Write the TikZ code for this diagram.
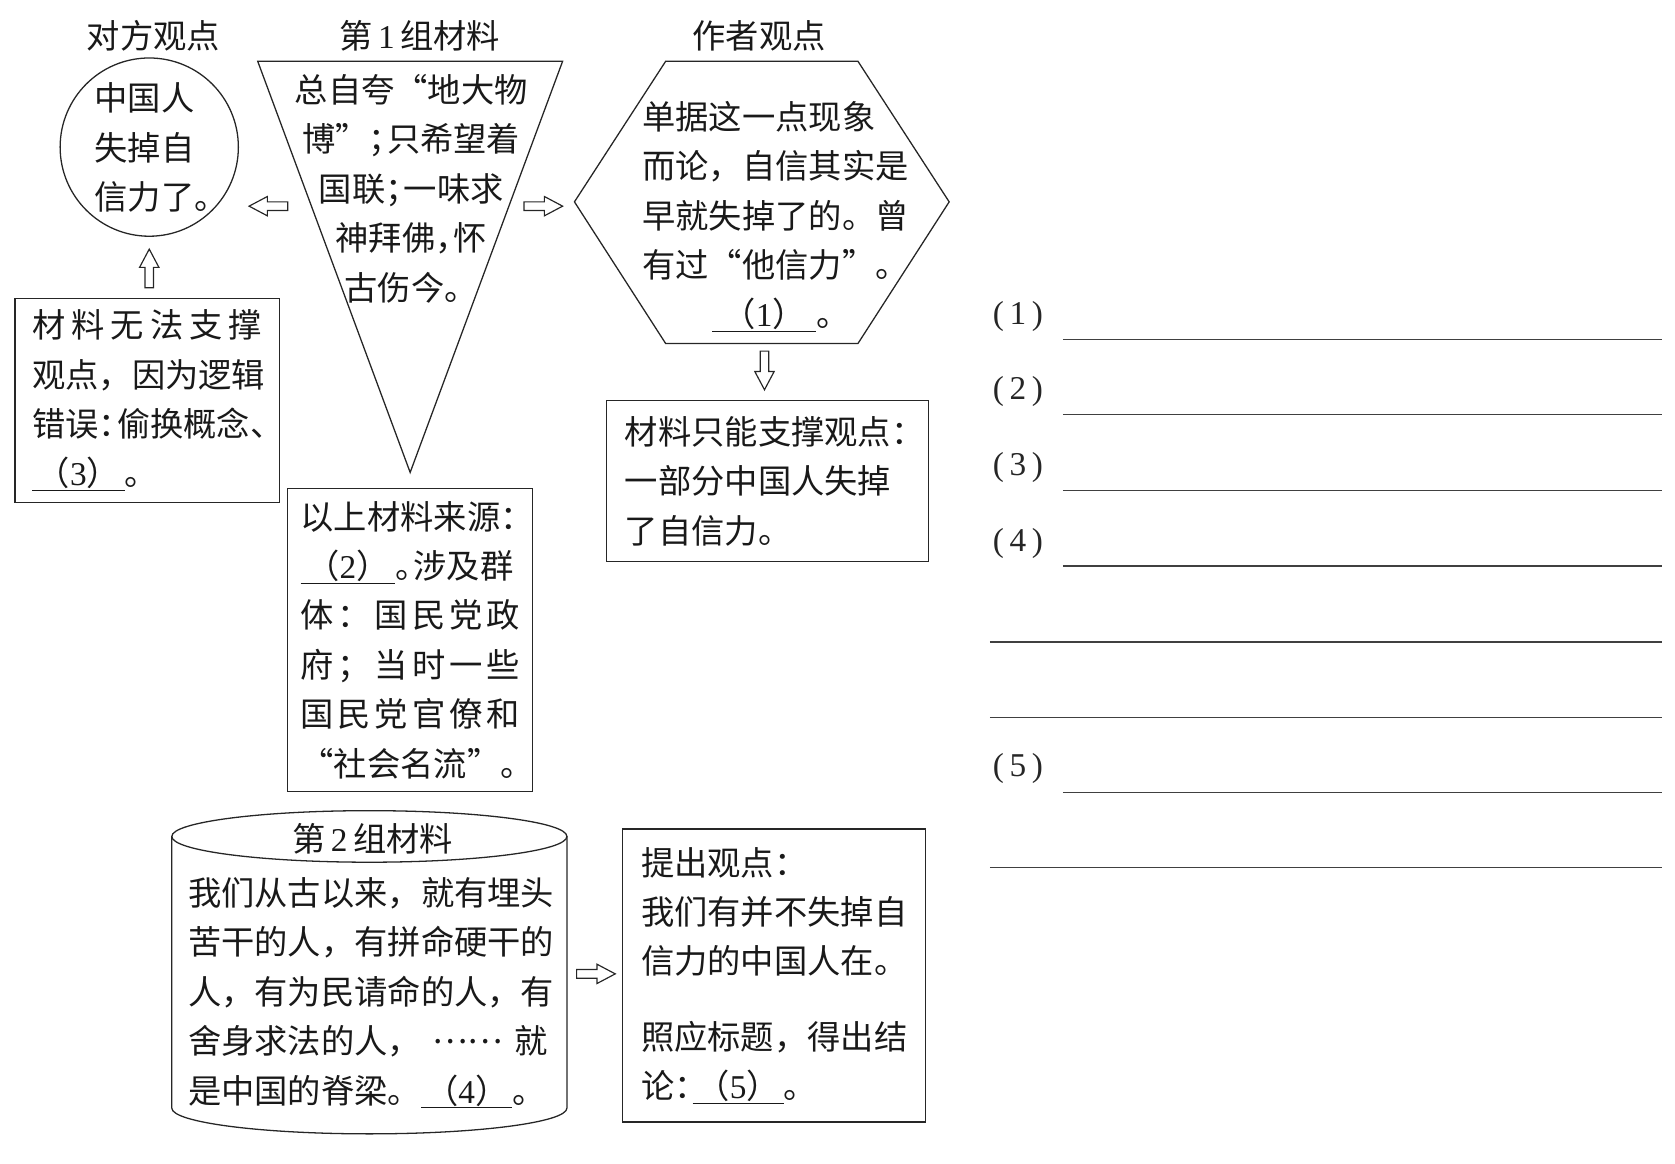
\documentclass[tikz,border=0pt]{standalone}
\usepackage{fontspec}
\setmainfont{Noto Sans CJK SC}
\newfontfamily\numfont{Liberation Serif}
\newcommand\hw[1]{\makebox[0.55em][l]{#1}}
\newcommand\blank[2]{\leavevmode\rlap{\rule[-5pt]{#1}{1.2pt}}\makebox[#1]{（{\numfont #2}）}}
\newcommand\spr[2]{\leavevmode\hbox to #1{#2}}
\tikzset{
  outl/.style={draw=black!85, line width=1.2pt},
  txt/.style={font=\fontsize{31pt}{46pt}\selectfont, inner sep=0pt, align=left, text=black!90},
  ttl/.style={font=\fontsize{31pt}{37pt}\selectfont, inner sep=0pt, text=black!90},
  boxst/.style={outl, font=\fontsize{31pt}{46pt}\selectfont, align=left, inner ysep=0pt, text=black!90},
  lbl/.style={font=\numfont\fontsize{31pt}{36pt}\selectfont, inner sep=0pt, text=black!85},
  ansline/.style={line width=1.3pt, draw=black!75},
  harrow/.pic={\draw[outl, line width=1.1pt] (-18,-4) -- (1,-4) -- (1,-9) -- (18,0) -- (1,9) -- (1,4) -- (-18,4) -- cycle;}
}
\begin{document}
\begin{tikzpicture}[x=1pt,y=-1pt]
\useasboundingbox (0,0) rectangle (1560,1084);
% titles
\node[ttl] (t1) at (143,33) {对方观点};
\node[ttl] (t2) at (391,33) {第{\numfont\,1\,}组材料};
\node[ttl] (t3) at (707,33) {作者观点};
% circle
\node[outl, circle, minimum size=166pt, inner sep=0pt] (circ) at (139,137) {};
\node[txt, anchor=north west] (circtxt) at (88,77) {中国人\\失掉自\\信力了。};
% triangle
\coordinate (triA) at (240,57);
\coordinate (triB) at (524,57);
\coordinate (triC) at (382,440);
\draw[outl] (triA) -- (triB) -- (triC) -- cycle;
\node[txt, align=center, anchor=north] (tritxt) at (383,69) {总自夸“地大物\\博”\hw{；}只希望着\\国联\hw{；}一味求\\神拜佛\hw{，}怀\\古伤今。};
% hexagon
\draw[outl] (535,188) -- (620,57) -- (799,57) -- (884,188) -- (799,320) -- (620,320) -- cycle;
\node[txt, anchor=north west] (hextxt) at (598,94) {单据这一点现象\\而论，自信其实是\\早就失掉了的。曾\\有过“他信力”。\\\hspace*{65pt}\blank{97pt}{1}。};
% boxes
\node[boxst, minimum width=246pt, minimum height=190pt, text width=214pt, inner xsep=16pt] (b1) at (137,373)
  {\spr{214pt}{材\hfill 料\hfill 无\hfill 法\hfill 支\hfill 撑}\\观点，因为逻辑\\错误\hw{：}偷换概念\hw{、}\\\blank{86pt}{3}。};
\node[boxst, minimum width=300pt, minimum height=150pt, text width=266pt, inner xsep=17pt] (b2) at (715,448)
  {材料只能支撑观点\hw{：}\\一部分中国人失掉\\了自信力。};
\node[boxst, minimum width=228pt, minimum height=282pt, text width=204pt, inner xsep=12pt] (b3) at (382,596)
  {以上材料来源\hw{：}\\\blank{88pt}{2}\hw{。}涉及群\\\spr{204pt}{体\hfill ：\hfill 国\hfill 民\hfill 党\hfill 政}\\\spr{204pt}{府\hfill ；\hfill 当\hfill 时\hfill 一\hfill 些}\\\spr{204pt}{国\hfill 民\hfill 党\hfill 官\hfill 僚\hfill 和}\\“社会名流”。};
\node[boxst, minimum width=282pt, minimum height=273pt, text width=248pt, inner xsep=17pt] (b4) at (721,908.5)
  {提出观点\hw{：}\\我们有并不失掉自\\信力的中国人在。\\[24pt]照应标题，得出结\\论\hw{：}\blank{85pt}{5}。};
% cylinder
\draw[outl] (344,779) ellipse[x radius=184, y radius=24];
\draw[outl] (160,779) -- (160,1032) arc[start angle=180, end angle=0, x radius=184, y radius=24] -- (528,779);
\node[ttl] (c2) at (347,781) {第{\numfont\,2\,}组材料};
\node[txt, anchor=north west] (cyltxt) at (175,817) {我们从古以来，就有埋头\\苦干的人，有拼命硬干的\\人，有为民请命的人，有\\\spr{335pt}{舍身求法的人，\hfill \raisebox{9pt}{……}\hfill 就}\\是中国的脊梁。\blank{85pt}{4}。};
% hollow arrows
\pic[rotate=180] at (250,192) {harrow};
\pic at (506,192) {harrow};
\pic[rotate=90] at (139,250) {harrow};
\pic[rotate=-90] at (712,345) {harrow};
\pic at (555,907) {harrow};
% answer lines
\foreach \i/\yy in {1/295, 2/365, 3/435, 4/506, 5/716}
  \node[lbl] (lab\i) at (948,\yy) {(\,\i\,)};
\foreach \yy in {316,386,457,527,738}
  \draw[ansline] (990,\yy) -- (1548,\yy);
\foreach \yy in {598,668,808}
  \draw[ansline] (922,\yy) -- (1548,\yy);
\end{tikzpicture}
\end{document}
